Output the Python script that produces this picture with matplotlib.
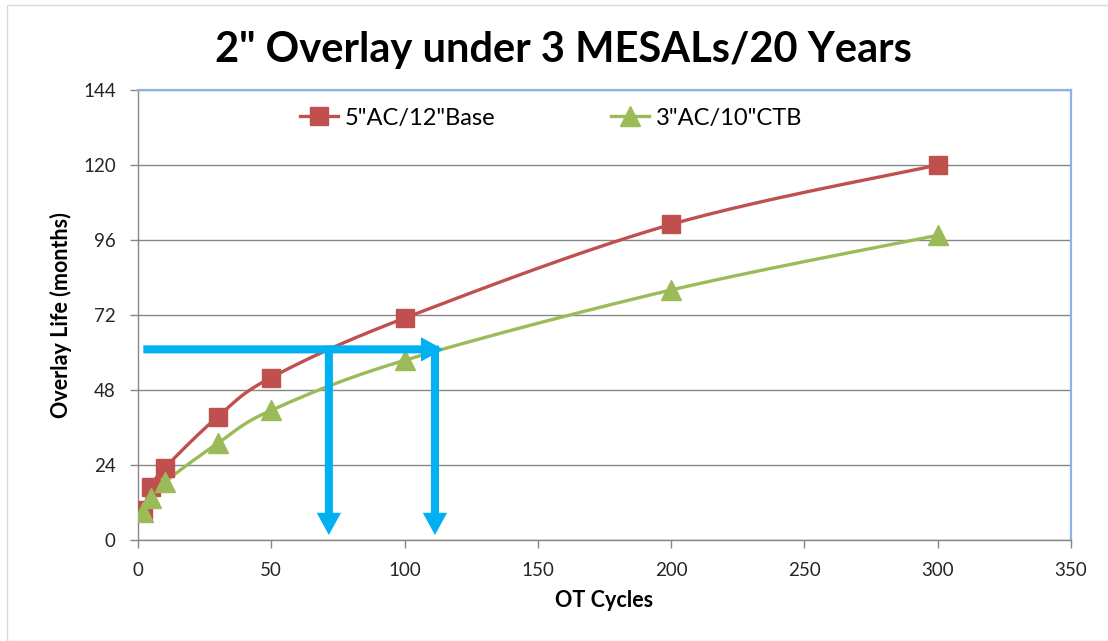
import numpy as np
import matplotlib
matplotlib.use('Agg')
import matplotlib.pyplot as plt
from matplotlib.lines import Line2D
from matplotlib.patches import Rectangle

# ---- data ----
ot_cycles = [2, 5, 10, 30, 50, 100, 200, 300]
base_life = [9.6, 17, 23, 39.5, 52, 71, 101, 120]
ctb_life = [9, 13.5, 18.5, 31, 41.5, 57.5, 80, 97.5]
series_names = ['5"AC/12"Base', '3"AC/10"CTB']
x_ticks = [0, 50, 100, 150, 200, 250, 300, 350]
y_ticks = [0, 24, 48, 72, 96, 120, 144]
title = '2" Overlay under 3 MESALs/20 Years'
x_label = 'OT Cycles'
y_label = 'Overlay Life (months)'

# blue annotation arrows (data coords)
arrow_level = 61
arrow_start = 2
arrow_end = 114.5
drop_x = [71.6, 111.4]
drop_end = 1.6

RED = '#C0504D'
GREEN = '#9BBB59'
BLUE = '#00B0F0'
GRID = '#868686'
FRAME = '#8EB4E3'

plt.rcParams['font.family'] = ['Lato', 'DejaVu Sans']

W, H = 1108, 641
fig = plt.figure(figsize=(W / 100, H / 100), dpi=100)
L, R, T, B = 138, 1071, 90, 540
ax = fig.add_axes([L / W, 1 - B / H, (R - L) / W, (B - T) / H])
ax.set_xlim(0, 350)
ax.set_ylim(0, 144)

sx = (R - L) / 350.0
sy = (B - T) / 144.0


def excel_smooth(x, y, n=40):
    P = np.column_stack([np.asarray(x, float) * sx, np.asarray(y, float) * sy])
    m = len(P)
    out = []
    for i in range(m - 1):
        p0 = P[i - 1] if i > 0 else P[i]
        p1, p2 = P[i], P[i + 1]
        p3 = P[i + 2] if i + 2 < m else P[i + 1]
        c1 = p1 + (p2 - p0) / 6.0
        c2 = p2 - (p3 - p1) / 6.0
        t = np.linspace(0, 1, n)[:, None]
        seg = (1 - t) ** 3 * p1 + 3 * (1 - t) ** 2 * t * c1 + 3 * (1 - t) * t ** 2 * c2 + t ** 3 * p2
        if i > 0:
            seg = seg[1:]
        out.append(seg)
    out = np.vstack(out)
    return out[:, 0] / sx, out[:, 1] / sy


# grid
ax.set_yticks(y_ticks)
ax.set_xticks(x_ticks)
ax.yaxis.grid(True, color=GRID, lw=1.0)
ax.xaxis.grid(False)
ax.set_axisbelow(True)

# series
bx, by = excel_smooth(ot_cycles, base_life)
gx, gy = excel_smooth(ot_cycles, ctb_life)
ax.plot(bx, by, color=RED, lw=2.4, zorder=3, solid_capstyle='round')
ax.plot(gx, gy, color=GREEN, lw=2.4, zorder=3, solid_capstyle='round')
ax.plot(ot_cycles, base_life, ls='none', marker='s', ms=13, color=RED, zorder=4)
ax.plot(ot_cycles, ctb_life, ls='none', marker='^', ms=15, color=GREEN, zorder=4)

# arrows
style = 'simple,tail_width=0.58,head_width=1.75,head_length=1.6'
ap = dict(arrowstyle=style, color=BLUE, shrinkA=0, shrinkB=0, mutation_scale=10, lw=0)
ax.annotate('', xy=(arrow_end, arrow_level), xytext=(arrow_start, arrow_level),
            arrowprops=ap, zorder=5)
for xv in drop_x:
    ax.annotate('', xy=(xv, drop_end), xytext=(xv, arrow_level + 1.2),
                arrowprops=ap, zorder=5)

# spines
for s in ['left', 'bottom']:
    ax.spines[s].set_color(GRID)
    ax.spines[s].set_linewidth(1.0)
for s in ['top', 'right']:
    ax.spines[s].set_color(FRAME)
    ax.spines[s].set_linewidth(1.6)

ax.tick_params(axis='both', direction='out', length=6, width=1.0, color=GRID,
               labelsize=13.5, labelcolor='#262626', pad=10)

ax.set_xlabel(x_label, fontsize=15.5, fontweight='bold', labelpad=8)
ax.set_ylabel(y_label, fontsize=15.5, fontweight='bold', labelpad=8)

fig.text(563 / W, 1 - 50 / H, title, ha='center', va='center',
         fontsize=30, fontweight='bold', color='black')

# legend
handles = [Line2D([], [], color=RED, lw=2.4, marker='s', ms=13),
           Line2D([], [], color=GREEN, lw=2.4, marker='^', ms=15)]
ax.legend(handles, series_names, loc='center left',
          bbox_to_anchor=((300 - L) / (R - L), (B - 118) / (B - T)),
          ncol=2, frameon=False, fontsize=17, handlelength=1.6,
          handletextpad=0.3, columnspacing=4.9, borderpad=0, borderaxespad=0)

# outer chart border
fig.patches.append(Rectangle((7 / W, 0), 1.2, 1 - 5 / H, transform=fig.transFigure,
                             fill=False, edgecolor='#D9D9D9', lw=1.0))

fig.savefig('out.png', dpi=100)
